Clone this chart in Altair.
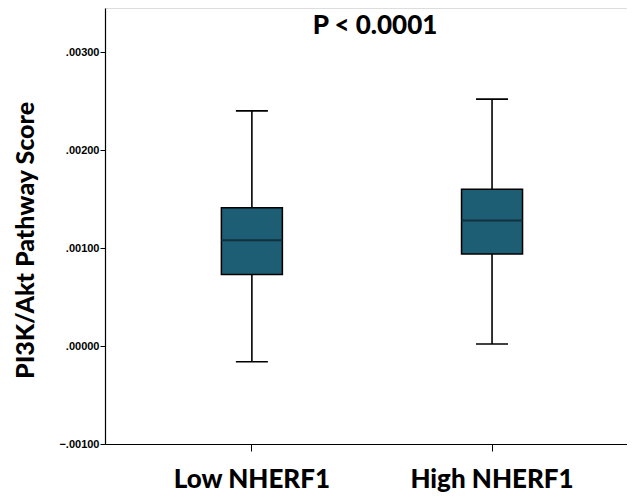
import altair as alt
import pandas as pd

groups = ["Low NHERF1", "High NHERF1"]
whisker_low = [-0.00016, 0.00002]
q1 = [0.00073, 0.00094]
median = [0.00108, 0.00128]
q3 = [0.00141, 0.00160]
whisker_high = [0.00240, 0.00252]
y_ticks = [-0.001, 0.0, 0.001, 0.002, 0.003]
annotation = "P < 0.0001"

df = pd.DataFrame({
    "group": groups,
    "lo": whisker_low,
    "q1": q1,
    "med": median,
    "q3": q3,
    "hi": whisker_high,
})

FILL = "#1D5E74"
TFONT = "Lato"

x = alt.X(
    "group:N",
    sort=groups,
    scale=alt.Scale(paddingInner=0, paddingOuter=0.0868, align=0.643),
    axis=alt.Axis(
        title=None,
        labelAngle=0,
        labelFont=TFONT,
        labelFontSize=26,
        labelFontWeight=900,
        labelColor="#000",
        labelPadding=15,
        tickSize=7,
        tickColor="#000",
        domainColor="#000",
        tickWidth=1,
        domainWidth=1.2,
    ),
)

yscale = alt.Scale(domain=[-0.001, 0.00345], nice=False, zero=False)
yaxis = alt.Axis(
    title="PI3K/Akt Pathway Score",
    titleFont=TFONT,
    titleFontSize=25,
    titleFontWeight=900,
    titleColor="#000",
    titlePadding=20,
    titleY=232,
    values=y_ticks,
    labelExpr="replace(format(datum.value, '.5f'), '0.', '.')",
    labelFont="Liberation Sans",
    labelFontSize=11,
    labelFontWeight="bold",
    labelColor="#000",
    labelPadding=1,
    tickSize=5,
    tickColor="#000",
    domainColor="#000",
    domainWidth=1.2,
    grid=False,
)

base = alt.Chart(df)

whisk = base.mark_rule(color="#000", strokeWidth=1.6).encode(
    x=x, y=alt.Y("lo:Q", scale=yscale, axis=yaxis), y2="hi:Q"
)
box = base.mark_bar(size=61, color=FILL, stroke="#000", strokeWidth=1.5).encode(
    x=x, y=alt.Y("q1:Q", scale=yscale, axis=yaxis), y2="q3:Q"
)
med = base.mark_tick(size=61, thickness=2, color="#12303c", opacity=1).encode(
    x=x, y=alt.Y("med:Q", scale=yscale, axis=yaxis)
)
cap_lo = base.mark_tick(size=32, thickness=1.6, color="#000", opacity=1).encode(
    x=x, y=alt.Y("lo:Q", scale=yscale, axis=yaxis)
)
cap_hi = base.mark_tick(size=32, thickness=1.6, color="#000", opacity=1).encode(
    x=x, y=alt.Y("hi:Q", scale=yscale, axis=yaxis)
)
label = alt.Chart(pd.DataFrame({"t": [annotation]})).mark_text(
    font=TFONT, fontSize=26, fontWeight=900, color="#000", baseline="middle", align="center"
).encode(text="t:N", x=alt.value(270), y=alt.value(18))

chart = alt.layer(whisk, box, med, cap_lo, cap_hi, label).properties(
    width=619,
    height=486,
    padding={"left": 5, "top": 0, "right": 0, "bottom": 2},
    autosize=alt.AutoSizeParams(type="fit", contains="padding"),
).configure_view(stroke=None).configure(background="white")

chart.save("out.html", embed_options={"renderer": "svg", "actions": False})
